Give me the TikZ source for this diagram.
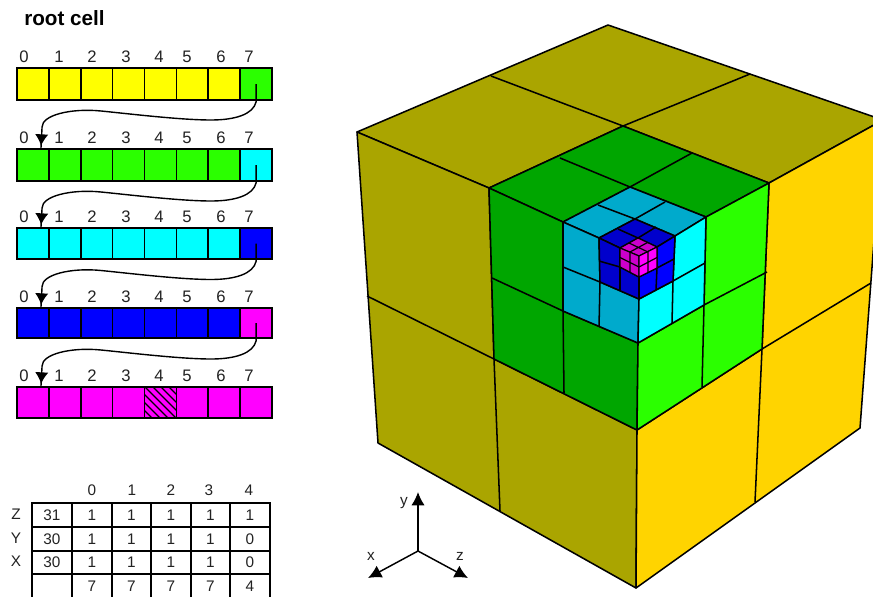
\documentclass[tikz,border=0pt]{standalone}
\usepackage{fontspec}
\setmainfont{Liberation Sans}
\usetikzlibrary{arrows.meta,decorations.markings}
\definecolor{olive}{HTML}{AAA500}
\definecolor{gold}{HTML}{FFD400}
\definecolor{gdark}{HTML}{00A600}
\definecolor{glight}{HTML}{2BFF00}
\definecolor{cdark}{HTML}{00AACC}
\definecolor{clight}{HTML}{00FFFF}
\definecolor{bdark}{HTML}{0000CC}
\definecolor{blight}{HTML}{0000FF}
\definecolor{mdark}{HTML}{CC00CC}
\definecolor{mlight}{HTML}{FF00FF}
\definecolor{ybar}{HTML}{FFFF00}
\definecolor{txt}{HTML}{222222}
\tikzset{
  cellbox/.style={draw=black,line width=1.3pt,inner sep=0pt,outer sep=0pt,minimum width=23.9pt},
  idx/.style={font=\fontsize{12.5}{14}\selectfont,text=txt,inner sep=0pt},
  tbl/.style={font=\fontsize{11.5}{13}\selectfont,text=txt,inner sep=0pt},
  tcell/.style={tbl,draw=black,line width=1.1pt,outer sep=0pt},
  link/.style={line width=1.05pt,postaction={decorate},decoration={markings,
     mark=at position -2.5pt with {\arrow{Latex[length=8.5pt,width=10pt]}}}},
  face/.style={draw=black,line width=1.15pt,line join=round},
  seam/.style={draw=black,line width=1.15pt},
  fine/.style={draw=black,line width=0.9pt},
  axis/.style={line width=1.1pt,-{Latex[length=10pt,width=10pt]}},
}
\begin{document}
\begin{tikzpicture}[x=0.75pt,y=-0.75pt]
\useasboundingbox (0,0) rectangle (873,596);
\clip (0,0) rectangle (873,596);
\fill[white] (0,0) rectangle (873,596);

% ---------- title
\node[anchor=west,inner sep=0pt,font=\fontsize{15.5}{17}\bfseries\selectfont] (title) at (24,18) {root cell};

% ---------- bars
\foreach \r/\yy/\hh/\main/\last in {1/84/32/ybar/glight,2/165/32/glight/clight,3/243.5/31/clight/blight,4/323/30/blight/mlight,5/402.5/31/mlight/mlight}{
  \pgfmathsetmacro{\hpt}{\hh*0.75}
  \foreach \c in {1,...,7}{
    \pgfmathsetmacro{\xx}{17+31.875*(\c-0.5)}
    \node[cellbox,fill=\main,minimum height=\hpt pt] (c\r\c) at (\xx,\yy) {};
  }
  \pgfmathsetmacro{\xx}{17+31.875*7.5}
  \node[cellbox,fill=\last,minimum height=\hpt pt] (c\r8) at (\xx,\yy) {};
}
\foreach \r/\yy in {1/57,2/138,3/217,4/297,5/376}{
  \foreach \xx/\t in {24/0,59/1,92/2,126/3,159/4,187/5,221/6,249/7}{
    \node[idx] (l\r\t) at (\xx,\yy) {\t};
  }
}
% hatched cell
\begin{scope}
  \clip (c55.north west) rectangle (c55.south east);
  \foreach \i in {-32,-24,...,32}{
    \draw[black,line width=0.9pt] (145+\i,387) -- (176+\i,418);
  }
\end{scope}
\node[cellbox,minimum height=23.25pt] (c55b) at (c55) {};
% links between bars
\foreach \r/\n in {1/2,2/3,3/4,4/5}{
  \draw[link] (c\r8.center) -- ++(0,18)
     .. controls +(-3,12) and +(25,0) .. ++(-45,18)
     .. controls +(-30,0) and +(30,3) .. ++(-110,-9)
     .. controls +(-30,-3) and +(0,-12) .. ++(-59,16)
     -- ([xshift=6pt]c\n1.north);
}

% ---------- table
\foreach \xx/\t in {92/0,132/1,171/2,209/3,249/4}{
  \node[tbl] (h\t) at (\xx,490) {\t};
}
\foreach \yy/\t in {514/Z,538/Y,561/X}{
  \node[tbl] (s\t) at (16,\yy) {\t};
}
\foreach \yy/\hh/\r/\a/\b/\c/\d/\e/\f in {
  515/24/1/31/1/1/1/1/1,
  539/24/2/30/1/1/1/1/0,
  562.5/23/3/30/1/1/1/1/0,
  586/24/4/{}/7/7/7/7/4}{
  \pgfmathsetmacro{\hpt}{\hh*0.75}
  \node[tcell,minimum width=30pt,minimum height=\hpt pt] (t\r a) at (52,\yy) {\a};
  \node[tcell,minimum width=30pt,minimum height=\hpt pt] (t\r b) at (92,\yy) {\b};
  \node[tcell,minimum width=29.25pt,minimum height=\hpt pt] (t\r c) at (131.5,\yy) {\c};
  \node[tcell,minimum width=30pt,minimum height=\hpt pt] (t\r d) at (171,\yy) {\d};
  \node[tcell,minimum width=29.25pt,minimum height=\hpt pt] (t\r e) at (210.5,\yy) {\e};
  \node[tcell,minimum width=30pt,minimum height=\hpt pt] (t\r f) at (250,\yy) {\f};
}

% ---------- axes
\coordinate (O) at (418,551);
\coordinate (ay) at (418,492);
\coordinate (ax) at (368,578);
\coordinate (az) at (468,578);
\draw[axis] (O) -- (ay);
\draw[axis] (O) -- (ax);
\draw[axis] (O) -- (az);
\node[tbl] (ly) at (404,503) {y};
\node[tbl] (lx) at (371,556) {x};
\node[tbl] (lz) at (460,556) {z};

% ---------- root cube vertices
\coordinate (A) at (608,25);
\coordinate (Lc) at (357,132);
\coordinate (Rt) at (883,120);
\coordinate (BL) at (491,76);
\coordinate (BR) at (750,74);
\coordinate (LB) at (378,443);
\coordinate (Bt) at (636,588);
\coordinate (RB) at (860,428);
\coordinate (Lm) at (367,296);
\coordinate (Rm) at (871,283);
\coordinate (Mb) at (500,511);
\coordinate (Nb) at (755,502);
% level 1
\coordinate (GA) at (623,126);
\coordinate (GL) at (489,188);
\coordinate (GR) at (769,183);
\coordinate (GLb) at (494,359);
\coordinate (GRb) at (762,349);
\coordinate (F) at (637,430);
\coordinate (GLm) at (492,278);
\coordinate (GRm) at (767,272);
\coordinate (Gt1) at (560,158);
\coordinate (Gt2) at (692,153);
\coordinate (Gb1) at (564,393);
\coordinate (Gb2) at (702,387);
% level 2
\coordinate (cA) at (630,187);
\coordinate (cL) at (563,222);
\coordinate (cR) at (706,217);
\coordinate (cB) at (638,343);
\coordinate (cLb) at (563,311);
\coordinate (cRb) at (704,305);
\coordinate (cLm) at (563,267);
\coordinate (cRm) at (705,263);
\coordinate (ct1) at (598,205);
\coordinate (ct2) at (665,202);
\coordinate (cb1) at (599,327);
\coordinate (cb2) at (672,323);
% level 3
\coordinate (bA) at (635,219);
\coordinate (bL) at (599,238);
\coordinate (bR) at (675,236);
\coordinate (bB) at (639,299);
\coordinate (bLb) at (600,282);
\coordinate (bRb) at (673,281);
\coordinate (bLm) at (599,261);
\coordinate (bRm) at (674,259);
\coordinate (bt1) at (618,229);
\coordinate (bt2) at (656,227);
\coordinate (bb1) at (620,290);
\coordinate (bb2) at (656,290);
% level 4
\coordinate (mA) at (638,238);
\coordinate (mL) at (620,248);
\coordinate (mR) at (657,247);
\coordinate (mF) at (639,256);
\coordinate (mB) at (639,277);
\coordinate (mLb) at (620,267);
\coordinate (mRb) at (657,268);

% root faces
\path[face,fill=olive] (A) -- (Rt) -- (GR) -- (GA) -- (GL) -- (Lc) -- cycle;
\draw[seam] (GA) -- (BL) (GA) -- (BR);
\path[face,fill=olive] (Lc) -- (GL) -- (GLb) -- (F) -- (Bt) -- (LB) -- cycle;
\draw[seam] (Lm) -- (GLb) -- (Mb);
\path[face,fill=gold] (GR) -- (Rt) -- (RB) -- (Bt) -- (F) -- (GRb) -- cycle;
\draw[seam] (Rm) -- (GRb) -- (Nb);

% level 1 faces
\path[face,fill=gdark] (GA) -- (GL) -- (cL) -- (cA) -- (cR) -- (GR) -- cycle;
\draw[seam] (Gt1) -- (cA) -- (Gt2);
\path[face,fill=gdark] (GL) -- (cL) -- (cLb) -- (cB) -- (F) -- (GLb) -- cycle;
\draw[seam] (GLm) -- (cLb) -- (Gb1);
\path[face,fill=glight] (GR) -- (cR) -- (cRb) -- (cB) -- (F) -- (GRb) -- cycle;
\draw[seam] (GRm) -- (cRb) -- (Gb2);

% level 2 faces
\path[face,fill=cdark] (cA) -- (cL) -- (bL) -- (bA) -- (bR) -- (cR) -- cycle;
\draw[seam] (ct1) -- (bA) -- (ct2);
\path[face,fill=cdark] (cL) -- (bL) -- (bLb) -- (bB) -- (cB) -- (cLb) -- cycle;
\draw[seam] (cLm) -- (bLb) -- (cb1);
\path[face,fill=clight] (cR) -- (bR) -- (bRb) -- (bB) -- (cB) -- (cRb) -- cycle;
\draw[seam] (cRm) -- (bRb) -- (cb2);

% level 3 faces
\path[face,fill=bdark] (bA) -- (bL) -- (mL) -- (mA) -- (mR) -- (bR) -- cycle;
\draw[seam] (bt1) -- (mA) -- (bt2);
\path[face,fill=bdark] (bL) -- (mL) -- (mLb) -- (mB) -- (bB) -- (bLb) -- cycle;
\draw[seam] (bLm) -- (mLb) -- (bb1);
\path[face,fill=blight] (bR) -- (mR) -- (mRb) -- (mB) -- (bB) -- (bRb) -- cycle;
\draw[seam] (bRm) -- (mRb) -- (bb2);

% level 4 faces
\path[fine,fill=mdark] (mA) -- (mL) -- (mF) -- (mR) -- cycle;
\path[fine,fill=mdark] (mL) -- (mF) -- (mB) -- (mLb) -- cycle;
\path[fine,fill=mlight] (mR) -- (mF) -- (mB) -- (mRb) -- cycle;
\draw[fine] (629,243) -- (648,252) (647.5,242.5) -- (630,252);
\draw[fine] (630,252) -- (630,272) (620,257.5) -- (639,267);
\draw[fine] (648,252) -- (648,273) (657,257.5) -- (639,267);
\end{tikzpicture}
\end{document}
